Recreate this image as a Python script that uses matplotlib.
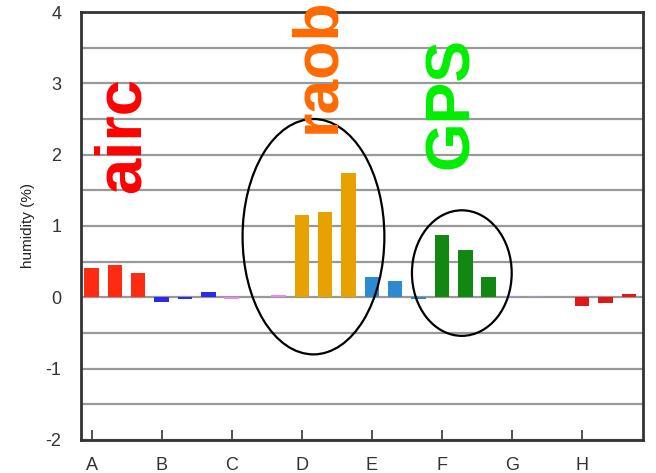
import matplotlib

matplotlib.use("Agg")

import matplotlib.pyplot as plt  # noqa: E402
import numpy as np  # noqa: E402
from matplotlib.patches import Ellipse  # noqa: E402

# Groupes (3 barres par catégorie).
categories = ["A", "B", "C", "D", "E", "F", "G", "H"]
values_A = [0.41, 0.46, 0.34]
values_B = [-0.06, -0.02, 0.08]
values_C = [-0.02, 0.01, 0.03]
values_D = [1.16, 1.20, 1.75]
values_E = [0.29, 0.23, -0.02]
values_F = [0.88, 0.67, 0.29]
values_G = [0.015, 0.015, 0.0]
values_H = [-0.12, -0.08, 0.05]
group_colors = ["#ff2a12", "#2a2aee", "#ee88ee", "#e8a200",
                "#2b8ad0", "#128812", "#9a9ad8", "#e01818"]

y_ticks = [-2, -1, 0, 1, 2, 3, 4]

groups = [values_A, values_B, values_C, values_D,
          values_E, values_F, values_G, values_H]

plt.rcParams["font.family"] = ["Liberation Sans", "DejaVu Sans"]
plt.rcParams["axes.unicode_minus"] = False

fig = plt.figure(figsize=(6.56, 4.73), dpi=100)
ax = fig.add_axes([0.1235, 0.0698, 0.8565, 0.9048])

for gi, (vals, col) in enumerate(zip(groups, group_colors)):
    xs = gi * 3 + np.arange(len(vals))
    ax.bar(xs, vals, width=0.62, color=col, zorder=3)

ax.set_xlim(-0.45, 23.6)
ax.set_ylim(-2, 4)
ax.set_yticks(y_ticks)
ax.set_yticks(np.arange(-2, 4.01, 0.5), minor=True)
ax.set_xticks(np.arange(len(categories)) * 3)
ax.set_xticklabels(categories)
ax.grid(axis="y", which="both", color="#999999", linewidth=1.6, zorder=1)
ax.tick_params(axis="y", which="major", direction="in", length=0,
               labelsize=13, pad=14, colors="#333333")
ax.tick_params(axis="y", which="minor", length=0)
ax.tick_params(axis="x", direction="in", length=7, width=1.2,
               labelsize=13, pad=12, colors="#333333")
for s in ax.spines.values():
    s.set_color("#333333")
    s.set_linewidth(2)
ax.set_ylabel("humidity (%)", fontsize=11, color="#222222", labelpad=8)

# Ellipses de mise en évidence.
ax.add_patch(Ellipse((9.5, 0.85), 6.07, 3.3, fill=False,
                     edgecolor="black", linewidth=1.6, zorder=4))
ax.add_patch(Ellipse((15.85, 0.34), 4.27, 1.76, fill=False,
                     edgecolor="black", linewidth=1.6, zorder=4))

ax.text(1.35, 2.27, "airc", rotation=90, color="#ff0000", fontsize=47,
        fontweight="bold", ha="center", va="center", zorder=5)
ax.text(9.7, 3.25, "raob", rotation=90, color="#ff6a00", fontsize=45,
        fontweight="bold", ha="center", va="center", clip_on=False, zorder=5)
ax.text(15.4, 2.73, "GPS", rotation=90, color="#00ee00", fontsize=45,
        fontweight="bold", ha="center", va="center", zorder=5)

fig.savefig("out.png", dpi=100)
